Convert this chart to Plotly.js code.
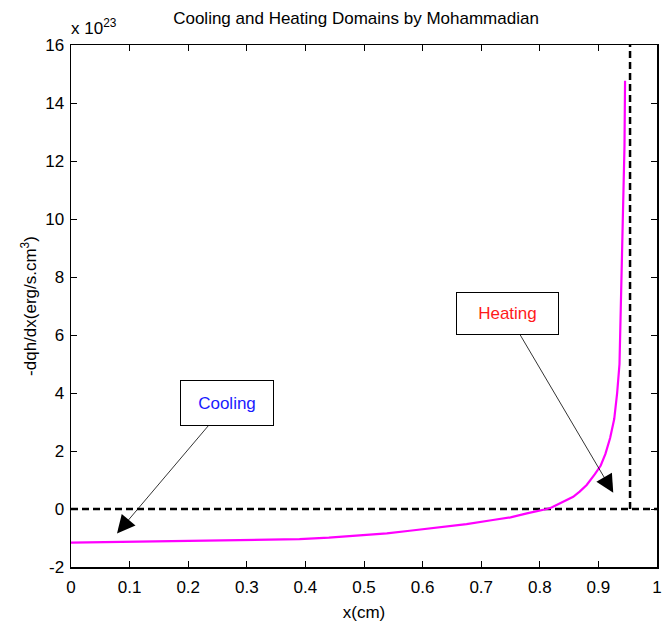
<!DOCTYPE html>
<html>
<head>
<meta charset="utf-8">
<script src="https://cdn.plot.ly/plotly-3.0.1.min.js"></script>
<style>html,body{margin:0;padding:0;background:#fff;}#chart{width:663px;height:631px;}</style>
</head>
<body>
<div id="chart"></div>
<script>
// Curve values (y in units of 1e23 erg/(s·cm^3))
var xCurve = [0, 0.15, 0.30, 0.39, 0.44, 0.493, 0.539, 0.578, 0.63, 0.675, 0.72, 0.75, 0.778, 0.80, 0.812, 0.82, 0.834, 0.845, 0.857, 0.868, 0.88, 0.894, 0.904, 0.912, 0.92, 0.927, 0.932, 0.936, 0.9374, 0.9398, 0.942, 0.9445, 0.9455];
var yCurve = [-1.16, -1.12, -1.08, -1.04, -0.99, -0.92, -0.84, -0.75, -0.63, -0.52, -0.38, -0.29, -0.15, -0.06, 0.0, 0.05, 0.18, 0.30, 0.42, 0.60, 0.83, 1.2, 1.5, 1.9, 2.45, 3.1, 4.0, 5.0, 6.2, 7.97, 10.2, 12.5, 14.77];
// Dashed reference lines
var xZeroLine = [0, 1];
var yZeroLine = [0, 0];
var xAsym = [0.954, 0.954];
var yAsym = [0, 16];
// Annotation labels (box centres) and arrow tips (data coords)
var labelText = ["Cooling", "Heating"];
var labelColor = ["#1a1aff", "#ff1a1a"];
var labelX = [0.267, 0.745];
var labelY = [3.65, 6.74];
var arrowTipX = [0.0785, 0.9254];
var arrowTipY = [-0.845, 0.56];
var boxW = [92, 101];
var boxH = [44, 41];
var xTicks = [0, 0.1, 0.2, 0.3, 0.4, 0.5, 0.6, 0.7, 0.8, 0.9, 1];
var yTicks = [-2, 0, 2, 4, 6, 8, 10, 12, 14, 16];

var FONT = "Liberation Sans, Arial, sans-serif";

var traces = [
  {x: xZeroLine, y: yZeroLine, mode: "lines", line: {color: "#000", width: 2.5, dash: "7px,4px"}, hoverinfo: "skip"},
  {x: xAsym, y: yAsym, mode: "lines", line: {color: "#000", width: 2.5, dash: "7px,4px"}, hoverinfo: "skip"},
  {x: xCurve, y: yCurve, mode: "lines", line: {color: "#ff00ff", width: 2.2}}
];

var annotations = [];
for (var i = 0; i < labelText.length; i++) {
  annotations.push({
    x: arrowTipX[i], y: arrowTipY[i], xref: "x", yref: "y",
    ax: labelX[i], ay: labelY[i], axref: "x", ayref: "y",
    text: labelText[i], showarrow: true, arrowhead: 2, arrowsize: 4.5, arrowwidth: 0.8, arrowcolor: "#000",
    standoff: 0,
    font: {family: FONT, size: 17, color: labelColor[i]},
    bgcolor: "#fff", bordercolor: "#000", borderwidth: 1, borderpad: 0, width: boxW[i], height: boxH[i]
  });
}
annotations.push({
  x: 0, y: 1, xref: "paper", yref: "paper", xanchor: "left", yanchor: "bottom", xshift: -2, yshift: 5,
  text: "x 10<sup>23</sup>", showarrow: false, font: {family: FONT, size: 17, color: "#000"}
});

var layout = {
  width: 663, height: 631,
  margin: {l: 71, r: 6, t: 45, b: 64, pad: 0},
  paper_bgcolor: "#fff", plot_bgcolor: "#fff",
  showlegend: false,
  title: {text: "Cooling and Heating Domains by Mohammadian", font: {family: FONT, size: 17, color: "#000"}, x: 0.537, xanchor: "center", y: 0.972, yanchor: "middle"},
  xaxis: {
    range: [0, 1], tickvals: xTicks, ticktext: xTicks.map(String), ticks: "inside", ticklen: 6, tickcolor: "#000",
    showline: true, linecolor: "#000", linewidth: 1.5, mirror: "allticks", showgrid: false, zeroline: false,
    ticklabelstandoff: 4,
    tickfont: {family: FONT, size: 17, color: "#000"},
    title: {text: "x(cm)", font: {family: FONT, size: 17, color: "#000"}, standoff: 10}
  },
  yaxis: {
    range: [-2, 16], tickvals: yTicks, ticktext: yTicks.map(String), ticks: "inside", ticklen: 6, tickcolor: "#000",
    showline: true, linecolor: "#000", linewidth: 1.5, mirror: "allticks", showgrid: false, zeroline: false,
    ticklabelstandoff: 2,
    tickfont: {family: FONT, size: 17, color: "#000"},
    title: {text: "-dqh/dx(erg/s.cm<sup>3</sup>)", font: {family: FONT, size: 17, color: "#000"}, standoff: 4}
  },
  annotations: annotations
};

Plotly.newPlot("chart", traces, layout, {staticPlot: true, displayModeBar: false});
</script>
</body>
</html>
